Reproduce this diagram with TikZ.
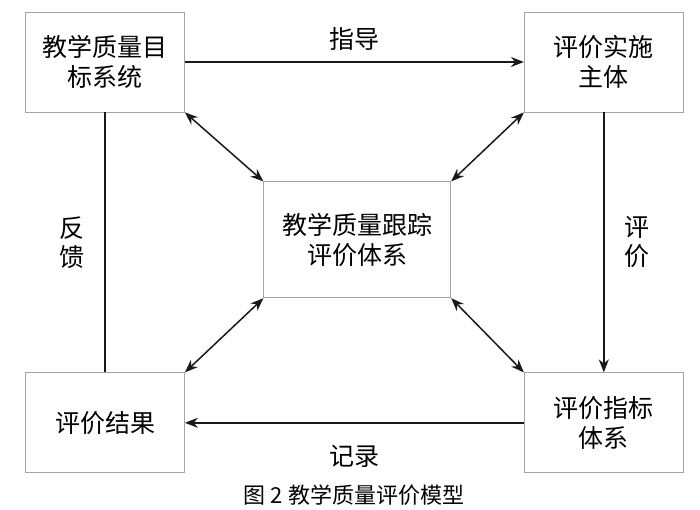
\documentclass[tikz,border=0pt]{standalone}
\usepackage{fontspec}
\setmainfont{Noto Sans CJK SC}
\usetikzlibrary{arrows.meta, positioning}
\definecolor{boxgray}{RGB}{165,165,165}
\definecolor{linegray}{RGB}{25,25,25}
\tikzstyle{unit} = [rectangle, minimum width=159pt, minimum height=100pt, inner sep=2pt, align=center, draw=boxgray, line width=0.8pt, font=\fontsize{25}{30}\selectfont]
\tikzstyle{core} = [unit, minimum width=187pt, minimum height=116pt]
\tikzstyle{arrow} = [line width=1.5pt, draw=linegray, -{Stealth[length=13pt,width=10pt]}]
\tikzstyle{biarrow} = [line width=1.5pt, draw=linegray, {Stealth[length=13pt,width=10pt]}-{Stealth[length=13pt,width=10pt]}]
\tikzstyle{plain} = [line width=1.5pt, draw=linegray]
\tikzstyle{tag} = [inner sep=2pt, align=center, font=\fontsize{25}{29}\selectfont]

\begin{document}
\begin{tikzpicture}[x=1pt, y=1pt]
\useasboundingbox (0,0) rectangle (700,510);

\node (goal) [unit] at (105,448) {教学质量目\\标系统};
\node (agent) [unit, right=339pt of goal] {评价实施\\主体};
\node (result) [unit, below=260pt of goal] {评价结果};
\node (index) [unit, right=339pt of result] {评价指标\\体系};
\node (track) [core, below right=69pt and 78.5pt of goal] {教学质量跟踪\\评价体系};

\draw [arrow] (goal) -- node[tag, above=9pt] {指导} (agent);
\draw [arrow] (agent) -- node[tag, right=18pt] {评\\价} (index);
\draw [arrow] (index) -- node[tag, below=20pt] {记录} (result);
\draw [plain] (result) -- node[tag, left=18pt] {反\\馈} (goal);

\draw [biarrow] (goal.south east) -- (track.north west);
\draw [biarrow] (agent.south west) -- (track.north east);
\draw [biarrow] (result.north east) -- (track.south west);
\draw [biarrow] (index.north west) -- (track.south east);

\node (caption) at (354,15) {\fontsize{22}{26}\selectfont 图 2 教学质量评价模型};

\end{tikzpicture}
\end{document}
